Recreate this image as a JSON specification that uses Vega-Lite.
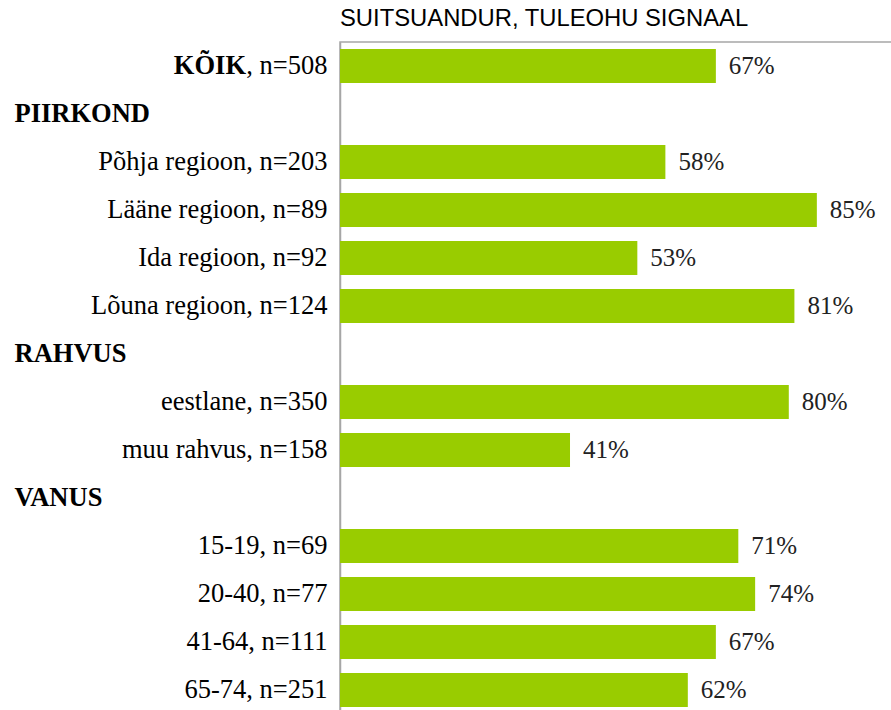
{
  "$schema": "https://vega.github.io/schema/vega-lite/v6.json",
  "width": 561,
  "height": 672,
  "autosize": {"type": "none"},
  "padding": {"left": 340, "top": 42, "right": 0, "bottom": 0},
  "background": "white",
  "title": {
    "text": "SUITSUANDUR, TULEOHU SIGNAAL",
    "anchor": "start",
    "frame": "group",
    "font": "Liberation Sans",
    "fontSize": 23.8,
    "fontWeight": "normal",
    "color": "black",
    "offset": 11
  },
  "config": {
    "view": {"stroke": "#a6a6a6", "strokeWidth": 1.5},
    "axis": {"grid": false}
  },
  "data": {
    "values": [
      {"k": "KÕIK, n=508", "kind": "total", "v": 0.67},
      {"k": "PIIRKOND", "kind": "header", "v": null},
      {"k": "Põhja regioon, n=203", "kind": "item", "v": 0.58},
      {"k": "Lääne regioon, n=89", "kind": "item", "v": 0.85},
      {"k": "Ida regioon, n=92", "kind": "item", "v": 0.53},
      {"k": "Lõuna regioon, n=124", "kind": "item", "v": 0.81},
      {"k": "RAHVUS", "kind": "header", "v": null},
      {"k": "eestlane, n=350", "kind": "item", "v": 0.80},
      {"k": "muu rahvus, n=158", "kind": "item", "v": 0.41},
      {"k": "VANUS", "kind": "header", "v": null},
      {"k": "15-19, n=69", "kind": "item", "v": 0.71},
      {"k": "20-40, n=77", "kind": "item", "v": 0.74},
      {"k": "41-64, n=111", "kind": "item", "v": 0.67},
      {"k": "65-74, n=251", "kind": "item", "v": 0.62}
    ]
  },
  "encoding": {
    "y": {
      "field": "k",
      "type": "nominal",
      "sort": null,
      "scale": {
        "domain": ["KÕIK, n=508", "PIIRKOND", "Põhja regioon, n=203", "Lääne regioon, n=89", "Ida regioon, n=92", "Lõuna regioon, n=124", "RAHVUS", "eestlane, n=350", "muu rahvus, n=158", "VANUS", "15-19, n=69", "20-40, n=77", "41-64, n=111", "65-74, n=251"],
        "paddingInner": 0.29,
        "paddingOuter": 0.145
      },
      "axis": {
        "title": null,
        "ticks": false,
        "domain": true,
        "domainColor": "#a6a6a6",
        "domainWidth": 1.5,
        "labelFont": "Liberation Serif",
        "labelFontSize": 26.5,
        "labelColor": "black",
        "labelLimit": 0,
        "labelExpr": "replace(datum.value, 'KÕIK', '')",
        "labelPadding": {"condition": {"test": "indexof(['PIIRKOND','RAHVUS','VANUS'], datum.value) >= 0", "value": 326}, "value": 13},
        "labelAlign": {"condition": {"test": "indexof(['PIIRKOND','RAHVUS','VANUS'], datum.value) >= 0", "value": "left"}, "value": "right"},
        "labelFontWeight": {"condition": {"test": "indexof(['PIIRKOND','RAHVUS','VANUS'], datum.value) >= 0", "value": "bold"}, "value": "normal"}
      }
    }
  },
  "layer": [
    {
      "mark": {"type": "bar", "color": "#99cc00"},
      "encoding": {
        "x": {"field": "v", "type": "quantitative", "scale": {"domain": [0, 1]}, "axis": null}
      }
    },
    {
      "mark": {"type": "text", "align": "left", "baseline": "middle", "dx": 13, "font": "Liberation Serif", "fontSize": 25, "color": "#222222"},
      "encoding": {
        "x": {"field": "v", "type": "quantitative"},
        "text": {"field": "v", "type": "quantitative", "format": ".0%"}
      }
    },
    {
      "transform": [{"filter": "datum.kind == 'total'"}],
      "mark": {"type": "text", "align": "right", "baseline": "middle", "dx": -94, "font": "Liberation Serif", "fontSize": 26.5, "fontWeight": "bold", "color": "black"},
      "encoding": {
        "x": {"datum": 0, "type": "quantitative"},
        "text": {"value": "KÕIK"}
      }
    }
  ]
}
